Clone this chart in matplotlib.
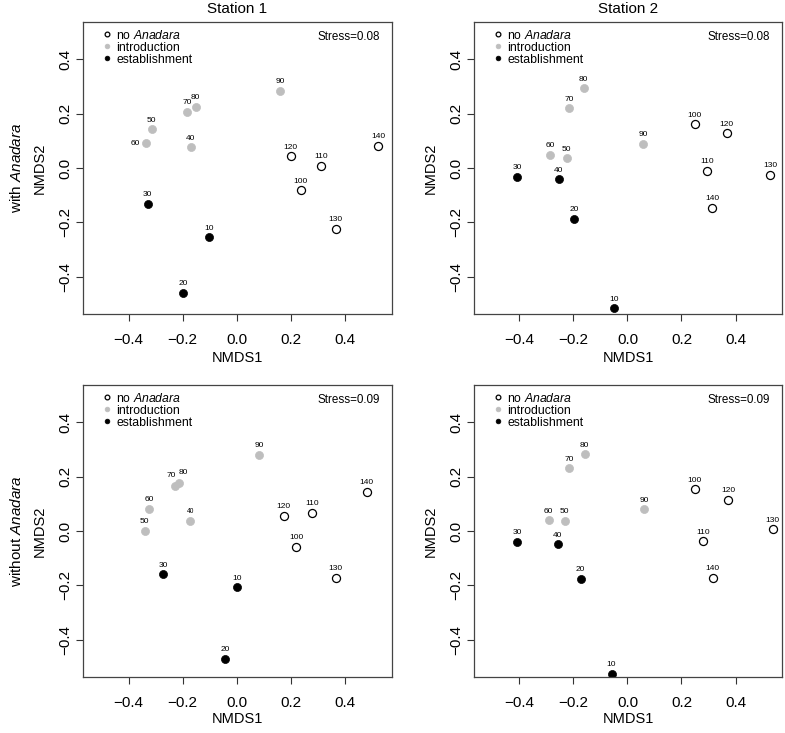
import matplotlib
matplotlib.use("Agg")
import matplotlib.pyplot as plt
from matplotlib.lines import Line2D

plt.rcParams["font.family"] = ["Liberation Sans", "DejaVu Sans"]
plt.rcParams["mathtext.fontset"] = "custom"
plt.rcParams["mathtext.rm"] = "Liberation Sans"
plt.rcParams["mathtext.it"] = "Liberation Sans:italic"

# sample labels (days)
samples = [10, 20, 30, 40, 50, 60, 70, 80, 90, 100, 110, 120, 130, 140]
phase_st1 = ["est"] * 3 + ["intro"] * 6 + ["no"] * 5
phase_st2 = ["est"] * 4 + ["intro"] * 5 + ["no"] * 5

# with Anadara
x_with_st1 = [-0.104, -0.199, -0.330, -0.170, -0.315, -0.336, -0.183, -0.152, 0.159, 0.235, 0.309, 0.199, 0.364, 0.521]
y_with_st1 = [-0.254, -0.458, -0.131, 0.076, 0.142, 0.090, 0.206, 0.225, 0.284, -0.081, 0.009, 0.043, -0.223, 0.082]
x_with_st2 = [-0.050, -0.198, -0.407, -0.255, -0.225, -0.285, -0.215, -0.162, 0.059, 0.249, 0.296, 0.367, 0.529, 0.314]
y_with_st2 = [-0.515, -0.187, -0.032, -0.042, 0.035, 0.049, 0.220, 0.292, 0.088, 0.160, -0.010, 0.127, -0.024, -0.147]

# without Anadara
x_without_st1 = [-0.001, -0.043, -0.273, -0.172, -0.341, -0.323, -0.227, -0.215, 0.081, 0.219, 0.277, 0.172, 0.364, 0.478]
y_without_st1 = [-0.206, -0.469, -0.159, 0.038, 0.001, 0.082, 0.164, 0.176, 0.280, -0.057, 0.067, 0.056, -0.171, 0.144]
x_without_st2 = [-0.059, -0.173, -0.409, -0.258, -0.233, -0.292, -0.216, -0.158, 0.063, 0.249, 0.279, 0.373, 0.537, 0.315]
y_without_st2 = [-0.524, -0.176, -0.040, -0.048, 0.037, 0.039, 0.231, 0.282, 0.079, 0.153, -0.038, 0.115, 0.006, -0.171]

stress = ["Stress=0.08", "Stress=0.08", "Stress=0.09", "Stress=0.09"]
stations = ["Station 1", "Station 2"]
rows = ["with $\\it{Anadara}$", "without $\\it{Anadara}$"]

GREY = "#bebebe"
styles = {
    "no": dict(mfc="white", mec="black", mew=0.9),
    "intro": dict(mfc=GREY, mec=GREY, mew=0.5),
    "est": dict(mfc="black", mec="black", mew=0.5),
}

# label offsets (points) that differ from "straight above"
label_offsets = {
    (0, 60): (-4, 0, "right", "center"),
    (2, 70): (-3, 5, "center", "bottom"),
    (2, 80): (3, 5, "center", "bottom"),
}
small_labels = {(2, 40)}

panels = [
    (x_with_st1, y_with_st1, phase_st1),
    (x_with_st2, y_with_st2, phase_st2),
    (x_without_st1, y_without_st1, phase_st1),
    (x_without_st2, y_without_st2, phase_st2),
]

fig = plt.figure(figsize=(7.85, 7.33), dpi=100)
W, H = 785, 733
lefts = [83, 474]
widths = [309, 308]
tops = [22, 385]
ax_h = 292
xlabel_y = [-0.127, -0.119]

for i, (xs, ys, phases) in enumerate(panels):
    r, c = divmod(i, 2)
    ax = fig.add_axes([lefts[c] / W, 1 - (tops[r] + ax_h) / H, widths[c] / W, ax_h / H])

    for x, y, ph, s in zip(xs, ys, phases, samples):
        ax.plot(x, y, marker="o", ms=5.8, linestyle="none", **styles[ph])
        dx, dy, ha, va = label_offsets.get((i, s), (0, 4, "center", "bottom"))
        fs = 4.8 if (i, s) in small_labels else 6
        ax.annotate(str(s), (x, y), xytext=(dx, dy), textcoords="offset points",
                    ha=ha, va=va, fontsize=fs)

    ax.set_xlim(-0.568, 0.572)
    ax.set_ylim(-0.536, 0.536)
    ax.set_xticks([-0.4, -0.2, 0.0, 0.2, 0.4])
    ax.set_yticks([-0.4, -0.2, 0.0, 0.2, 0.4])
    ax.set_xticklabels(["\u22120.4", "\u22120.2", "0.0", "0.2", "0.4"])
    ax.set_yticklabels(["\u22120.4", "\u22120.2", "0.0", "0.2", "0.4"], rotation=90, va="center")
    ax.tick_params(length=5, width=0.8, labelsize=11, color="#333333")
    ax.tick_params(axis="x", pad=9)
    ax.tick_params(axis="y", pad=2.5)
    for sp in ax.spines.values():
        sp.set_color("#444444")
        sp.set_linewidth(0.9)

    ax.set_xlabel("NMDS1", fontsize=10.5)
    ax.set_ylabel("NMDS2", fontsize=10.5)
    ax.xaxis.set_label_coords(0.5, xlabel_y[r])
    ax.yaxis.set_label_coords(-0.118, 0.5)

    ax.text(0.962, 0.95, stress[i], transform=ax.transAxes, ha="right", va="center", fontsize=8.4)

    handles = [
        Line2D([], [], marker="o", linestyle="none", ms=3.4, **styles["no"]),
        Line2D([], [], marker="o", linestyle="none", ms=3.4, **styles["intro"]),
        Line2D([], [], marker="o", linestyle="none", ms=3.4, **styles["est"]),
    ]
    ax.legend(handles, ["no $\\it{Anadara}$", "introduction", "establishment"],
              loc="upper left", bbox_to_anchor=(0.045, 1.0), frameon=False, fontsize=8.8,
              handlelength=0.5, handletextpad=0.55, labelspacing=0.0, borderaxespad=0.25,
              borderpad=0.3)

    if r == 0:
        ax.text(0.5, 1 + 13 / ax_h, stations[c], transform=ax.transAxes,
                ha="center", va="center", fontsize=11)
    if c == 0:
        fig.text(17 / W, 1 - (tops[r] + ax_h / 2) / H, rows[r], rotation=90,
                 ha="center", va="center", fontsize=11)

fig.savefig("out.png", dpi=100)
